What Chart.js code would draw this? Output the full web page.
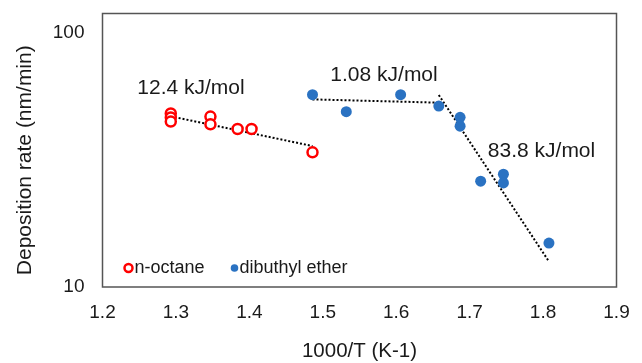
<!DOCTYPE html>
<html>
<head>
<meta charset="utf-8">
<script src="https://cdn.jsdelivr.net/npm/chart.js@4"></script>
<style>
  body { margin: 0; background: #fff; }
  #wrap { width: 642px; height: 363px; }
</style>
</head>
<body>
<div id="wrap"><canvas id="grafico" width="642" height="363"></canvas></div>
<script>
// dados
const octaneX = [1.293, 1.293, 1.293, 1.347, 1.347, 1.384, 1.403, 1.486];
const octaneY = [48.2, 46.5, 44.8, 46.9, 43.7, 41.9, 41.9, 33.9];

const etherX = [1.486, 1.532, 1.606, 1.658, 1.687, 1.687, 1.715, 1.746, 1.746, 1.808];
const etherY = [57.2, 49.0, 57.2, 51.6, 46.6, 43.0, 26.1, 27.8, 25.7, 14.9];

// linhas de tendência (pontas)
const trendOctaneX = [1.293, 1.486];
const trendOctaneY = [47.0, 35.9];
const trendFlatX = [1.486, 1.658];
const trendFlatY = [54.8, 53.2];
const trendSteepX = [1.658, 1.808];
const trendSteepY = [57.0, 12.6];

const xTicks = [1.2, 1.3, 1.4, 1.5, 1.6, 1.7, 1.8, 1.9];
const yTicks = [10, 100];

const annoTexts = ["12.4 kJ/mol", "1.08 kJ/mol", "83.8 kJ/mol"];
const annoX = [1.3205, 1.5834, 1.7979];
const annoY = [60.8, 68.0, 34.3];

const yTitle = 'Deposition rate (nm/min)';

const pts = (xs, ys) => xs.map((x, i) => ({ x: x, y: ys[i] }));

const FONT = "'Liberation Sans', Arial, sans-serif";
const TXT = '#1a1a1a';

const trend = (xs, ys) => ({
    type: 'line',
    data: pts(xs, ys),
    borderColor: '#000',
    borderWidth: 2,
    borderDash: [2, 2],
    pointRadius: 0,
    fill: false
});

// moldura + legenda + textos de energia + título do eixo y
const extras = {
    id: 'extras',
    afterDraw(chart) {
        const ctx = chart.ctx;
        const a = chart.chartArea;
        const sx = chart.scales.x, sy = chart.scales.y;
        ctx.save();
        ctx.strokeStyle = '#555';
        ctx.lineWidth = 1.5;
        ctx.strokeRect(a.left, a.top, a.right - a.left, a.bottom - a.top);

        ctx.fillStyle = TXT;
        ctx.font = '21px ' + FONT;
        ctx.textAlign = 'center';
        ctx.textBaseline = 'middle';
        annoTexts.forEach((t, i) => {
            ctx.fillText(t, sx.getPixelForValue(annoX[i]), sy.getPixelForValue(annoY[i]));
        });

        // título y
        ctx.save();
        ctx.translate(25, (a.top + a.bottom) / 2 + 10);
        ctx.rotate(-Math.PI / 2);
        ctx.fillText(yTitle, 0, 0);
        ctx.restore();

        // legenda
        const ly = a.bottom - 19;
        const octDs = chart.data.datasets[0], ethDs = chart.data.datasets[1];
        ctx.font = '18px ' + FONT;
        ctx.textAlign = 'left';
        ctx.beginPath();
        ctx.arc(a.left + 26, ly, 4, 0, Math.PI * 2);
        ctx.strokeStyle = octDs.borderColor;
        ctx.lineWidth = 2.5;
        ctx.stroke();
        ctx.fillStyle = TXT;
        ctx.fillText(octDs.label, a.left + 32, ly);
        ctx.beginPath();
        ctx.arc(a.left + 132, ly, 3.8, 0, Math.PI * 2);
        ctx.fillStyle = ethDs.backgroundColor;
        ctx.fill();
        ctx.fillStyle = TXT;
        ctx.fillText(ethDs.label, a.left + 137, ly);
        ctx.restore();
    }
};

new Chart(document.getElementById('grafico').getContext('2d'), {
    type: 'scatter',
    data: {
        datasets: [
            {
                label: 'n-octane',
                data: pts(octaneX, octaneY),
                borderColor: '#ff0000',
                backgroundColor: '#ffffff',
                borderWidth: 2.5,
                pointRadius: 5
            },
            {
                label: 'dibuthyl ether',
                data: pts(etherX, etherY),
                borderColor: '#2a72c2',
                backgroundColor: '#2a72c2',
                borderWidth: 0,
                pointRadius: 5.5
            },
            trend(trendOctaneX, trendOctaneY),
            trend(trendFlatX, trendFlatY),
            trend(trendSteepX, trendSteepY)
        ]
    },
    options: {
        responsive: false,
        animation: false,
        layout: { padding: { left: 0, top: 13.5, right: 25.5, bottom: 0 } },
        plugins: {
            legend: { display: false },
            tooltip: { enabled: false }
        },
        scales: {
            x: {
                type: 'linear',
                min: 1.2,
                max: 1.9,
                afterBuildTicks: s => { s.ticks = xTicks.map(v => ({ value: v })); },
                afterFit: s => { s.height = 76; s.paddingLeft = 0; s.paddingRight = 0; },
                grid: { display: false, drawTicks: false },
                border: { display: false },
                ticks: {
                    padding: 14,
                    color: TXT,
                    font: { family: FONT, size: 19 },
                    callback: v => v.toFixed(1)
                },
                title: {
                    display: true,
                    text: '1000/T (K-1)',
                    color: TXT,
                    font: { family: FONT, size: 20.5 },
                    padding: { top: 0, bottom: -1 }
                }
            },
            y: {
                type: 'logarithmic',
                min: 10,
                max: 119.4,
                afterBuildTicks: s => { s.ticks = yTicks.map(v => ({ value: v })); },
                afterFit: s => { s.width = 102.5; s.paddingTop = 0; s.paddingBottom = 0; },
                grid: { display: false, drawTicks: false },
                border: { display: false },
                ticks: {
                    padding: 18,
                    color: TXT,
                    font: { family: FONT, size: 19 },
                    callback: v => String(v)
                }
            }
        }
    },
    plugins: [extras]
});
</script>
</body>
</html>
